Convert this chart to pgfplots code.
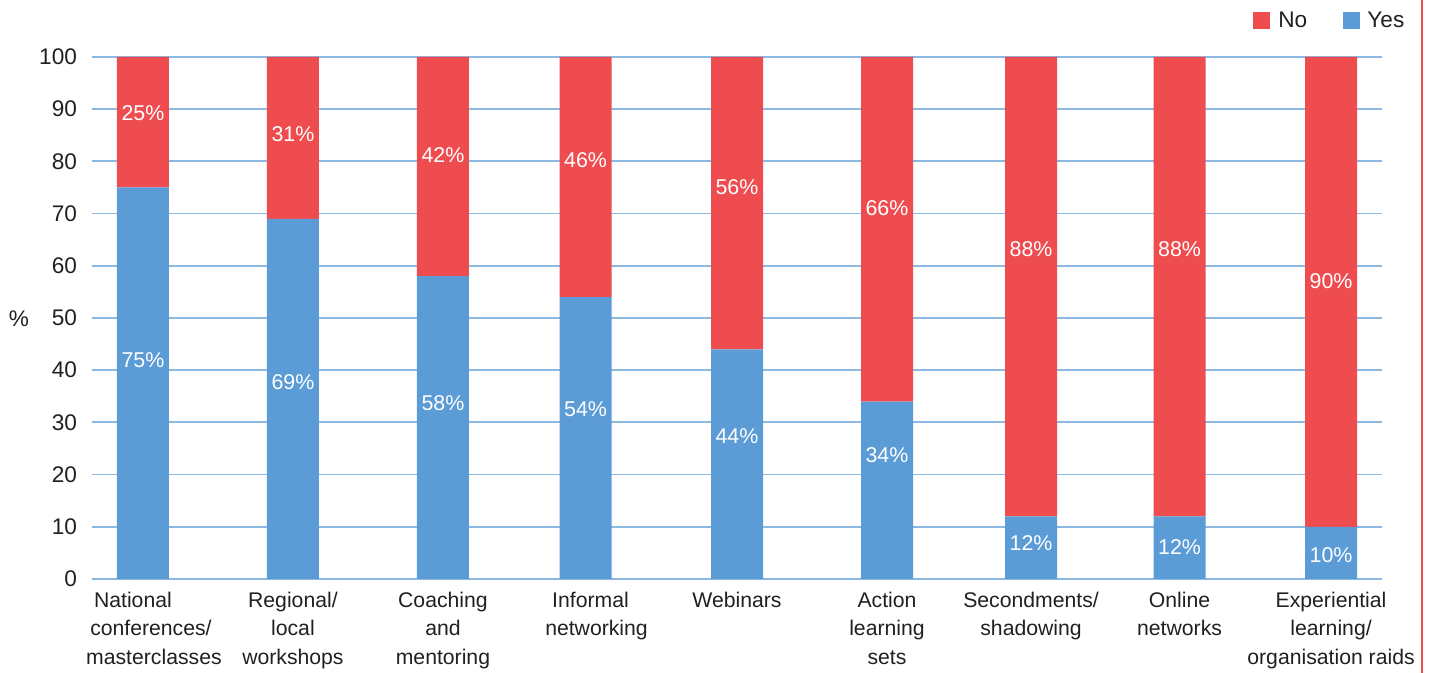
\documentclass[border=0pt]{standalone}
\usepackage{pgfplots}
\pgfplotsset{compat=1.18}
\usepackage{pgfplotstable}
\usepackage{fontspec}
\setmainfont{Liberation Sans}
\definecolor{cred}{HTML}{EF4C4F}
\definecolor{cblue}{HTML}{5B9BD6}
\definecolor{cgrid}{HTML}{8DB8E2}
\definecolor{ctext}{HTML}{231F20}

\pgfplotstableread{
x     yes  no
0     75   25
1.01  69   31
2.02  58   42
2.98  54   46
4.00  44   56
5.01  34   66
5.98  12   88
6.98  12   88
8.00  10   90
}\bars

\pgfplotstableread{
x     y     lab
0     89.3  25\%
1.01  85.2  31\%
2.02  81.2  42\%
2.98  80.3  46\%
4.00  75.1  56\%
5.01  71.1  66\%
5.98  63.2  88\%
6.98  63.2  88\%
8.00  57.1  90\%
0     42.0  75\%
1.01  37.7  69\%
2.02  33.7  58\%
2.98  32.6  54\%
4.00  27.4  44\%
5.01  23.8  34\%
5.98  6.9   12\%
6.98  6.1   12\%
8.00  4.6   10\%
}\labs

\begin{document}
\begin{tikzpicture}
\useasboundingbox (0,0) rectangle (714.5pt,336.5pt);
\begin{axis}[
  at={(46pt,47pt)}, anchor=south west,
  scale only axis, width=645pt, height=261pt,
  xmin=-0.343, xmax=8.343, ymin=0, ymax=100,
  ybar stacked, bar width=26pt,
  axis line style={draw=none},
  major tick length=0pt,
  ytick={0,10,...,100},
  ymajorgrids, grid style={cgrid, line width=0.9pt},
  xtick={0,1.01,2.02,2.98,4,5.01,5.98,6.98,8},
  xticklabels={{\mbox{National\kern10pt}\\\mbox{\kern8pt conferences/}\\\mbox{\kern11pt masterclasses}},{Regional/\\local\\workshops},{Coaching\\and\\mentoring},{\mbox{\kern5pt Informal\kern0pt}\\\mbox{\kern11pt networking}},{Webinars},{Action\\learning\\sets},{Secondments/\\shadowing},{Online\\networks},{Experiential\\learning/\\organisation raids}},
  xticklabel style={align=center, text=ctext, font=\fontsize{10.6}{14.25}\selectfont, yshift=-3pt},
  yticklabel style={text=ctext, font=\fontsize{11.3}{13}\selectfont, xshift=-4pt},
  /pgf/number format/assume math mode=true,
  clip=false,
]
\addplot[draw=none, fill=cblue] table[x=x, y=yes] {\bars};
\addplot[draw=none, fill=cred] table[x=x, y=no] {\bars};
\end{axis}
\begin{axis}[
  at={(46pt,47pt)}, anchor=south west,
  scale only axis, width=645pt, height=261pt,
  xmin=-0.343, xmax=8.343, ymin=0, ymax=100,
  hide axis, clip=false,
]
\addplot[only marks, mark=none, nodes near coords, point meta=explicit symbolic,
  every node near coord/.append style={anchor=center, text=white, font=\fontsize{10.7}{12}\selectfont}]
  table[x=x, y=y, meta=lab] {\labs};
\end{axis}
\node[text=ctext, font=\fontsize{11.3}{13}\selectfont] at (9.5pt,177pt) {\%};
\fill[cred] (626.5pt,322pt) rectangle ++(8.5pt,8.5pt);
\node[anchor=base west, text=ctext, inner sep=0pt, font=\fontsize{11.3}{13}\selectfont] at (639pt,322.5pt) {No};
\fill[cblue] (671.5pt,322pt) rectangle ++(8.5pt,8.5pt);
\node[anchor=base west, text=ctext, inner sep=0pt, font=\fontsize{11.3}{13}\selectfont] at (683.5pt,322.5pt) {Yes};
\draw[cred, line width=1pt] (711pt,0) -- (711pt,336.5pt);
\end{tikzpicture}
\end{document}
